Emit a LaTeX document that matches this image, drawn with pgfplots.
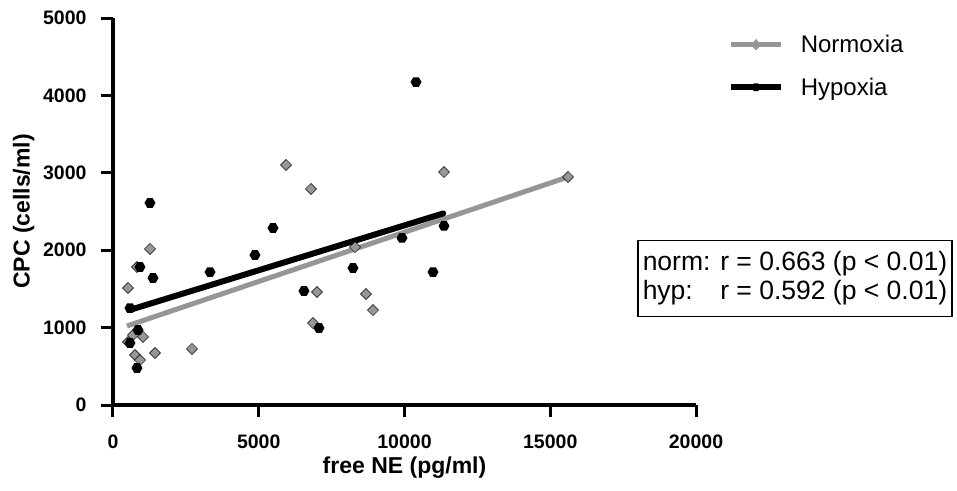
\documentclass[border=0pt]{standalone}
\usepackage{fontspec}
\setmainfont{Liberation Sans}
\usepackage{pgfplots}
\pgfplotsset{compat=1.18}
\definecolor{ngray}{RGB}{150,150,150}
\pgfdeclareplotmark{hex*}{%
  \pgfpathmoveto{\pgfqpointpolar{0}{\pgfplotmarksize}}%
  \pgfpathlineto{\pgfqpointpolar{60}{\pgfplotmarksize}}%
  \pgfpathlineto{\pgfqpointpolar{120}{\pgfplotmarksize}}%
  \pgfpathlineto{\pgfqpointpolar{180}{\pgfplotmarksize}}%
  \pgfpathlineto{\pgfqpointpolar{240}{\pgfplotmarksize}}%
  \pgfpathlineto{\pgfqpointpolar{300}{\pgfplotmarksize}}%
  \pgfpathclose
  \pgfusepathqfill}
\begin{document}
\begin{tikzpicture}
\path[use as bounding box] (-113pt,-85pt) rectangle (844pt,405pt);
\begin{axis}[
  scale only axis,
  width=583pt, height=387pt,
  xmin=0, xmax=20000, ymin=0, ymax=5000,
  axis x line*=bottom, axis y line*=left,
  axis line style={line width=4pt, -},
  every tick/.style={line width=3pt, black},
  tick align=outside,
  major tick length=12pt,
  xtick={0,5000,10000,15000,20000},
  ytick={0,1000,2000,3000,4000,5000},
  minor tick num=0,
  scaled ticks=false,
  /pgf/number format/1000 sep={},
  /pgf/number format/assume math mode=true,
  tick label style={font=\fontsize{19.5}{22}\selectfont\bfseries},
  yticklabel style={anchor=east, xshift=-11pt},
  xticklabel style={anchor=north, yshift=-14pt},
  xlabel={free NE (pg/ml)},
  ylabel={CPC (cells/ml)},
  every axis x label/.style={at={(axis description cs:0.5,-0.163)}, anchor=center,
    font=\fontsize{23}{26}\selectfont\bfseries},
  every axis y label/.style={at={(axis description cs:-0.153,0.5)}, anchor=center, rotate=90,
    font=\fontsize{23}{26}\selectfont\bfseries},
  clip=false,
  legend style={at={(rel axis cs:1.055,0.962)}, anchor=north west, draw=none, fill=none,
    font=\fontsize{24}{28}\selectfont, row sep=20pt, inner sep=0pt},
  legend cell align=left,
  legend image code/.code={%
    \draw[mark repeat=2,mark phase=2,#1] plot coordinates {(0pt,0pt) (25pt,0pt) (50pt,0pt)};},
]
\addlegendimage{ngray, line width=5pt, mark=square*, mark size=3.5pt, mark options={rotate=45, solid, line width=0pt}}
\addlegendentry{\hspace{15pt}Normoxia}
\addlegendimage{black, line width=5.5pt, mark=hex*, mark size=4.5pt}
\addlegendentry{\hspace{15pt}Hypoxia}

% Normoxia data
\addplot[forget plot, only marks, mark=square*, mark size=3.9pt, mark options={rotate=45, draw=none, fill=ngray}] coordinates {
(515,1512) (1269,2016) (823,1783) (686,904) (515,814) (1029,879) (755,646) (926,581)
(1441,672) (2710,724) (5935,3101) (6792,2791) (6998,1460) (6861,1059) (8302,2041)
(8679,1434) (8919,1227) (11355,3010) (15609,2946)
};
% Hypoxia data
\addplot[forget plot, only marks, mark=hex*, mark size=5.5pt, mark options={fill=black, draw=none}] coordinates {
(1269,2610) (926,1783) (1372,1641) (583,1253) (858,969) (583,801) (823,478)
(3328,1718) (4871,1938) (5489,2287) (6552,1473) (7067,995) (8233,1770) (9914,2158)
(10395,4173) (10978,1718) (11355,2313)
};
% regression lines
\addplot[forget plot, ngray, line width=5pt] coordinates {(480,1021) (15609,2946)};
\addplot[forget plot, black, line width=6pt, line cap=round] coordinates {(550,1225) (11330,2475)};

\node[draw, line width=1.5pt, anchor=north west, inner xsep=5pt, inner ysep=9pt, align=left,
  font=\fontsize{26.5}{29}\selectfont] at (rel axis cs:0.8988,0.4264)
  {\begin{tabular}{@{}l@{ }l@{}}norm: & r = 0.663 (p < 0.01)\\ hyp: & r = 0.592 (p < 0.01)\end{tabular}};
\end{axis}
\end{tikzpicture}
\end{document}
